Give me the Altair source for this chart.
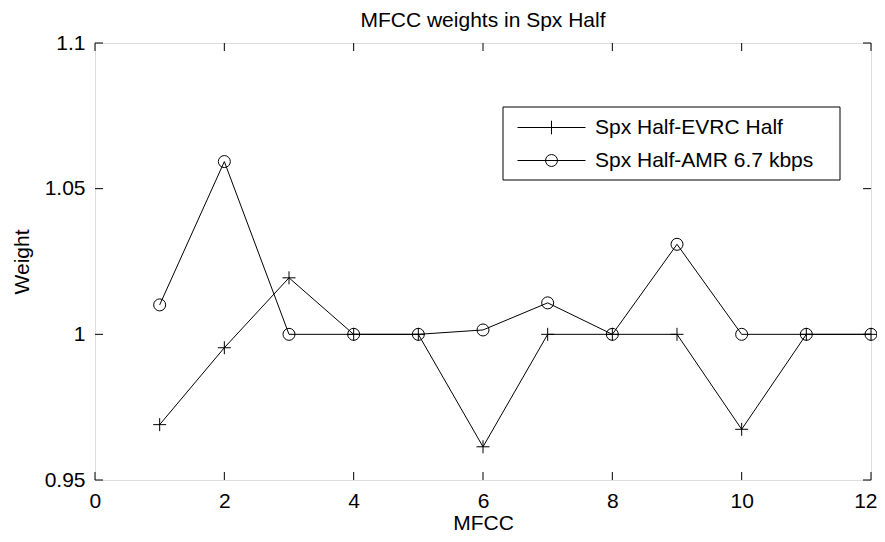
import altair as alt
import pandas as pd

# ---- data ----
mfcc = list(range(1, 13))
evrc_half = [0.969, 0.9954, 1.0194, 1.0, 1.0, 0.9614, 1.0, 1.0, 1.0, 0.9674, 1.0, 1.0]
amr_67 = [1.0101, 1.0593, 1.0, 1.0, 1.0, 1.0015, 1.0108, 1.0, 1.0309, 1.0, 1.0, 1.0]
series_names = ["Spx Half-EVRC Half", "Spx Half-AMR 6.7 kbps"]
x_ticks = [0, 2, 4, 6, 8, 10, 12]
y_ticks = [0.95, 1.0, 1.05, 1.1]

FONT = "Liberation Sans"
FS = 21
W, H = 776, 437
TL = 8  # inward tick length

df = pd.DataFrame({
    "MFCC": mfcc * 2,
    "Weight": evrc_half + amr_67,
    "Series": [series_names[0]] * len(mfcc) + [series_names[1]] * len(mfcc),
})
df_evrc = df[df["Series"] == series_names[0]]
df_amr = df[df["Series"] == series_names[1]]
xt = pd.DataFrame({"MFCC": x_ticks})
yt = pd.DataFrame({"Weight": y_ticks})

xs = alt.Scale(domain=[0, 12], nice=False, zero=False)
ys = alt.Scale(domain=[0.95, 1.1], nice=False, zero=False)

x_axis = alt.Axis(values=x_ticks, format="d", tickSize=0, domain=False, grid=False,
                  labelFont=FONT, labelFontSize=FS, labelColor="black", labelPadding=10,
                  labelFlush=True, labelFlushOffset=6, labelOverlap=False, labelBound=False,
                  title="MFCC", titleFont=FONT, titleFontSize=FS, titleFontWeight="normal",
                  titleColor="black", titlePadding=1)
y_axis = alt.Axis(values=y_ticks, format="~g", tickSize=0, domain=False, grid=False,
                  labelFont=FONT, labelFontSize=FS, labelColor="black", labelPadding=10,
                  labelFlush=False, labelOverlap=False, labelBound=False,
                  title="Weight", titleFont=FONT, titleFontSize=FS, titleFontWeight="normal",
                  titleColor="black", titlePadding=12)

X = alt.X("MFCC:Q", scale=xs, axis=x_axis)
Y = alt.Y("Weight:Q", scale=ys, axis=y_axis)

lines = alt.Chart(df).mark_line(color="black", strokeWidth=1).encode(
    x=X, y=Y, detail="Series:N",
)

PLUS = "M-1,0H1M0,-1V1"
plus_pts = alt.Chart(df_evrc).mark_point(
    shape=PLUS, size=169, color="black", filled=False, strokeWidth=1, opacity=1
).encode(x=X, y=Y)
circ_pts = alt.Chart(df_amr).mark_point(
    shape="circle", size=144, color="black", filled=False, strokeWidth=1, opacity=1
).encode(x=X, y=Y)

# legend box (decoration) behind the legend entries
legend_box = alt.Chart(pd.DataFrame({"box": [0]})).mark_rect(
    fill="white", stroke="black", strokeWidth=1
).encode(x=alt.value(408), x2=alt.value(745), y=alt.value(64), y2=alt.value(137))

# legend symbols: line sample with marker in the middle
PLUS_LEG = "M-1,0H1M0,-0.2V0.2"
r = 0.176
CIRC_LEG = f"M-1,0H1M-{r},0A{r},{r} 0 1,0 {r},0A{r},{r} 0 1,0 -{r},0"

legend_layer = alt.Chart(df).mark_point(opacity=0, filled=False).encode(
    x=X, y=Y,
    shape=alt.Shape("Series:N",
                    scale=alt.Scale(domain=series_names, range=[PLUS_LEG, CIRC_LEG]),
                    legend=alt.Legend(title=None, orient="none", legendX=408, legendY=64,
                                      padding=4,
                                      symbolSize=4624, symbolStrokeWidth=1,
                                      symbolStrokeColor="black", symbolFillColor="transparent",
                                      symbolOpacity=1, symbolOffset=10, labelOffset=9,
                                      labelFont=FONT, labelFontSize=FS, labelColor="black",
                                      labelLimit=500, clipHeight=33, rowPadding=0)),
)

tick_style = dict(color="black", strokeWidth=1)
bottom_ticks = alt.Chart(xt).mark_rule(**tick_style).encode(
    x=X, y=alt.value(H), y2=alt.value(H - TL))
top_ticks = alt.Chart(xt).mark_rule(**tick_style).encode(
    x=X, y=alt.value(0), y2=alt.value(TL))
left_ticks = alt.Chart(yt).mark_rule(**tick_style).encode(
    y=Y, x=alt.value(0), x2=alt.value(TL))
right_ticks = alt.Chart(yt).mark_rule(**tick_style).encode(
    y=Y, x=alt.value(W), x2=alt.value(W - TL))

chart = alt.layer(
    lines, bottom_ticks, top_ticks, left_ticks, right_ticks,
    plus_pts, circ_pts, legend_box, legend_layer,
).properties(
    width=W, height=H,
    title=alt.TitleParams("MFCC weights in Spx Half", font=FONT, fontSize=FS,
                          fontWeight="normal", color="black", anchor="middle",
                          frame="group", offset=1),
    padding={"left": 87, "top": 35, "right": 6, "bottom": 54},
    autosize=alt.AutoSizeParams(type="none"),
).configure_view(
    stroke="black", strokeWidth=1
).configure(background="white")

chart.save("out.html", embed_options={"renderer": "svg", "actions": False})
